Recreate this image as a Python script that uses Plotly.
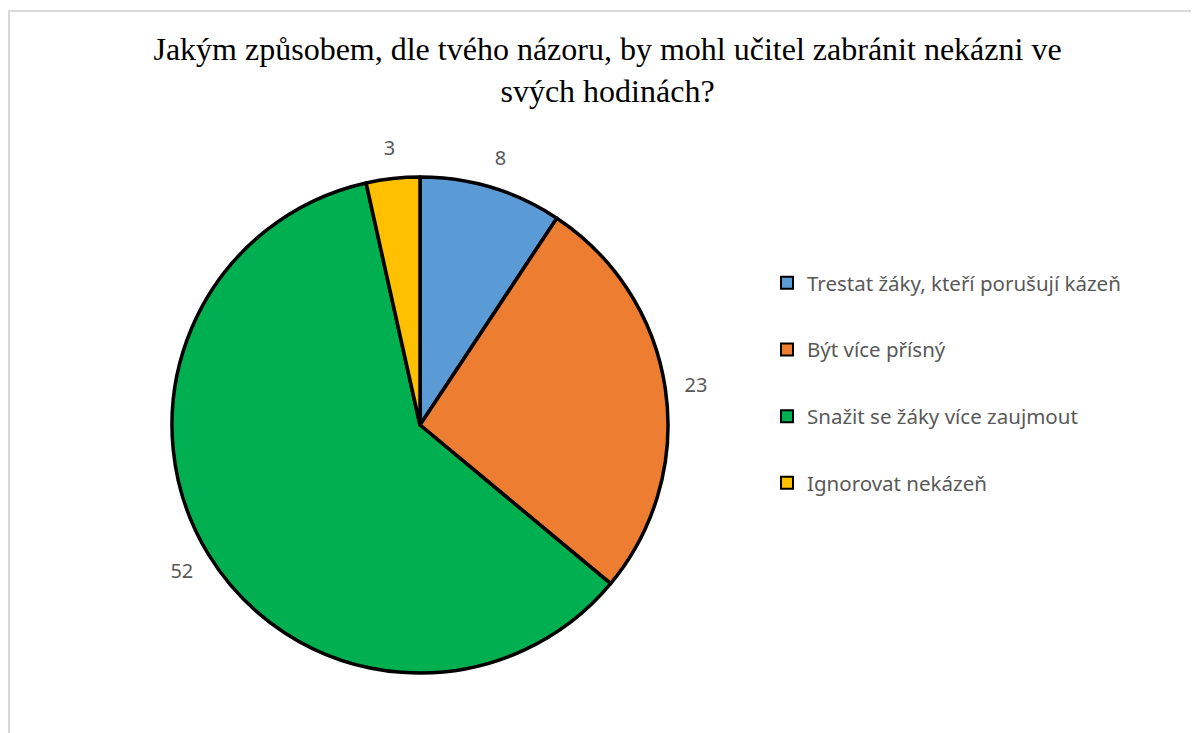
import plotly.graph_objects as go

# --- DATA ---
labels = [
    "Trestat žáky, kteří porušují kázeň",
    "Být více přísný",
    "Snažit se žáky více zaujmout",
    "Ignorovat nekázeň",
]
values = [8, 23, 52, 3]
colors = ["#5B9BD5", "#ED7D31", "#00B050", "#FFC000"]

TITLE = "Jakým způsobem, dle tvého názoru, by mohl učitel zabránit nekázni ve<br>svých hodinách?"
W, H = 1199, 733

# pie geometry in px (figure coords)
CX, CY, R = 412, 417, 248
R_LBL = 310  # outer edge of the invisible label ring


def dom(r):
    return dict(x=[(CX - r) / W, (CX + r) / W], y=[1 - (CY + r) / H, 1 - (CY - r) / H])


fig = go.Figure()

fig.add_trace(go.Pie(
    labels=labels, values=values, sort=False, direction="clockwise", rotation=0,
    marker=dict(colors=colors, line=dict(color="black", width=3.5)),
    textinfo="none", showlegend=False, hoverinfo="skip",
    domain=dom(R),
))

# transparent ring around the pie that carries the value labels
fig.add_trace(go.Pie(
    labels=labels, values=values, sort=False, direction="clockwise", rotation=0,
    hole=R / R_LBL,
    marker=dict(colors=["rgba(0,0,0,0)"] * len(values), line=dict(width=0)),
    textinfo="value", textposition="inside", insidetextorientation="horizontal",
    insidetextfont=dict(family="Noto Sans", size=20, color="#595959"),
    showlegend=False, hoverinfo="skip",
    domain=dom(R_LBL),
))

# legend entries (one group each so tracegroupgap spaces them out)
for i, (lab, col) in enumerate(zip(labels, colors)):
    fig.add_trace(go.Scatter(
        x=[None], y=[None], mode="markers", name=lab, legendgroup=f"g{i}",
        marker=dict(symbol="square", size=12, color=col, line=dict(color="black", width=2)),
    ))

# light grey chart border (right/bottom edges fall outside the view)
fig.add_shape(type="rect", xref="paper", yref="paper",
              x0=1 / W, x1=1.2, y0=-0.2, y1=1 - 3 / H,
              line=dict(color="#D9D9D9", width=2))

fig.update_layout(
    width=W, height=H,
    margin=dict(l=0, r=0, t=0, b=0),
    paper_bgcolor="white", plot_bgcolor="white",
    title=dict(text=TITLE, x=0.5, xanchor="center", y=1 - 52 / H, yanchor="top",
               font=dict(family="Liberation Serif", size=32, color="black")),
    xaxis=dict(visible=False), yaxis=dict(visible=False),
    legend=dict(x=759 / W, y=1 - 255 / H, xanchor="left", yanchor="top",
                tracegroupgap=37, font=dict(family="Noto Sans", size=20.5, color="#595959")),
)

fig.write_html("out.html")
